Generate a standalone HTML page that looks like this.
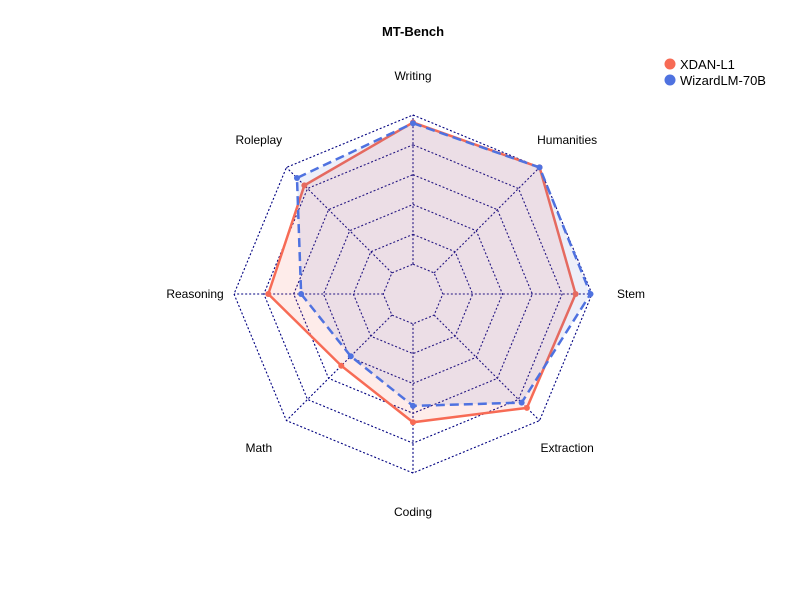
<!DOCTYPE html>
<html><head><meta charset="utf-8">
<style>
html,body{margin:0;padding:0;background:#fff;}
svg{display:block;font-family:"Liberation Sans",Arial,sans-serif;}
</style></head>
<body>
<svg id="chart" width="800" height="600" viewBox="0 0 800 600">
  <text x="413" y="36" text-anchor="middle" font-size="13" font-weight="bold">MT-Bench</text>
  <g id="grid"></g>
  <g id="series"></g>
  <g id="labels"></g>
  <g>
    <g>
      <circle cx="670" cy="64" r="5.5" fill="#F76B55"></circle>
      <text x="680" y="69" font-size="13">XDAN-L1</text>
    </g>
    <g>
      <circle cx="670" cy="80" r="5.5" fill="#4F72E0"></circle>
      <text x="680" y="85" font-size="13">WizardLM-70B</text>
    </g>
  </g>
</svg>
<script>
const categories = ["Writing","Humanities","Stem","Extraction","Coding","Math","Reasoning","Roleplay"];
const xdanValues = [9.5, 10.0, 8.9, 8.8, 6.6, 4.8, 7.7, 8.3];
const wizardValues = [9.45, 10.0, 9.9, 8.3, 5.5, 3.9, 5.5, 9.0];
const axisMin = 0, axisMax = 10, segments = 5;

const NS = "http://www.w3.org/2000/svg";
const cx = 413, cy = 294, R = 179, labelR = 218;
const n = categories.length;
function ang(i){ return -Math.PI/2 + i*2*Math.PI/n; }
function rScale(v){ return R*(1 + segments*(v-axisMin)/(axisMax-axisMin))/(segments+1); }
function pt(i, r){ return [cx + r*Math.cos(ang(i)), cy + r*Math.sin(ang(i))]; }
function mk(tag, attrs, parent){ const e=document.createElementNS(NS,tag); for(const k in attrs) e.setAttribute(k,attrs[k]); parent.appendChild(e); return e; }

const grid = document.getElementById("grid");
for(let s=0;s<=segments;s++){
  const r = R*(s+1)/(segments+1);
  const pts = categories.map((c,i)=>pt(i,r).join(",")).join(" ");
  const ring = mk("polygon",{points:pts,fill:"none",stroke:"#000080","stroke-width":1.1,"stroke-dasharray":"2,2"},grid);
  
  
}
categories.forEach((c,i)=>{
  const a = pt(i,R/(segments+1)), b = pt(i,R);
  const ln = mk("line",{x1:a[0],y1:a[1],x2:b[0],y2:b[1],stroke:"#000080","stroke-width":1.1,"stroke-dasharray":"2,2"},grid);
  
  
});

const series = document.getElementById("series");
function drawSeries(vals, color, fill, dash, name){
  const g = mk("g",{},series);
  
  
  const pts = vals.map((v,i)=>pt(i,rScale(v)));
  const s = pts.map(p=>p.join(",")).join(" ");
  mk("polygon",{points:s,fill:fill,stroke:"none"},g);
  const line = mk("polygon",{points:s,fill:"none",stroke:color,"stroke-width":2.5,"stroke-dasharray":dash||"none"},g);
  
  
  pts.forEach(p=>{
    const c = mk("circle",{cx:p[0],cy:p[1],r:3,fill:color},g);
    
    
  });
}
drawSeries(xdanValues, "#F76B55", "rgba(250,110,90,0.13)", null, "series-xdan");
drawSeries(wizardValues, "#4F72E0", "rgba(80,100,200,0.1)", "9,5", "series-wizardlm");

const labels = document.getElementById("labels");
categories.forEach((c,i)=>{
  const p = pt(i,labelR);
  const t = mk("text",{x:p[0],y:p[1]+4,"text-anchor":"middle","font-size":12,fill:"#000"},labels);
  t.textContent = c;
  
  
});
</script>
</body></html>
